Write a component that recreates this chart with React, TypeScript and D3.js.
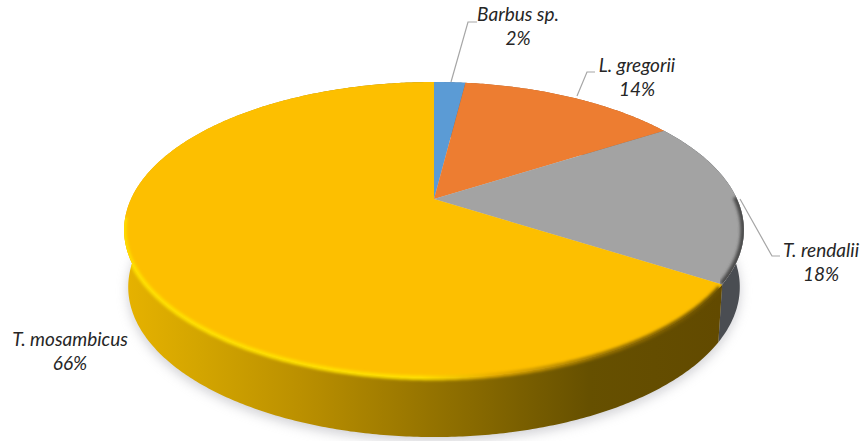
import React from "react";
import * as d3 from "d3";

const species = ["Barbus sp.", "L. gregorii", "T. rendalii", "T. mosambicus"];
const shares = [2, 14, 18, 66];
const faceColours = ["#5b9bd5", "#ed7d31", "#a3a3a3", "#fdbf00"];
const wallColours = ["#3c6d9c", "#a85820", "#4a4d52", "url(#wallY)"];

const W = 862, H = 441;
const TAU = Math.PI * 2;

// Projective mapping of the pie's circle onto the tilted picture plane
const C = -0.2095;
const project = (ang: number, lvl: { cx: number; R: number; a: number; b: number }) => {
  const u = Math.sin(ang), v = -Math.cos(ang);
  const d = 1 + C * v;
  return [lvl.cx + (lvl.R * u) / d, (lvl.a * v + lvl.b) / d] as [number, number];
};
const topLvl = { cx: 434, R: 303, a: 99.8, b: 199 };
const botLvl = { cx: 434, R: 299, a: 89.9, b: 255.6 };

const samples = (a0: number, a1: number) => {
  const n = Math.max(2, Math.ceil((a1 - a0) / 0.01));
  return d3.range(n + 1).map((i) => a0 + ((a1 - a0) * i) / n);
};
const line = d3.line();

const pieGen = d3.pie<number>().sort(null).startAngle(0).endAngle(TAU);
const arcs = pieGen(shares);

const facePath = (a0: number, a1: number) =>
  line([[topLvl.cx, topLvl.b] as [number, number], ...samples(a0, a1).map((t) => project(t, topLvl))]) + "Z";
const wallPath = (a0: number, a1: number) => {
  const s = samples(a0, a1);
  return line([...s.map((t) => project(t, topLvl)), ...s.slice().reverse().map((t) => project(t, botLvl))]) + "Z";
};
const rimPath = (a0: number, a1: number) => line(samples(a0, a1).map((t) => project(t, topLvl))) || "";
const wholeFace = line(samples(0, TAU).map((t) => project(t, topLvl))) + "Z";
const silhouette = line(samples(0, TAU).map((t) => project(t, botLvl))) + "Z";

const labelSpecs = [
  { x: 518, y: 21, leader: [[451, 82], [468, 22], [477, 22]] },
  { x: 637, y: 72, leader: [[577, 96], [587, 72], [595, 72]] },
  { x: 821, y: 257, leader: [[740, 199], [772, 256], [780, 256]] },
  { x: 70, y: 346, leader: [] as number[][] },
];

export default function App() {
  const yArc = arcs[3];
  const gArc = arcs[2];
  return (
    <svg width={W} height={H} style={{ position: "absolute", left: 0, top: 0, background: "#fff" }}
      fontFamily="Lato, 'Open Sans', sans-serif">
      <defs>
        <linearGradient id="wallY" gradientUnits="userSpaceOnUse" x1="125" x2="720" y1="0" y2="0">
          <stop offset="0" stopColor="#e6b200" />
          <stop offset="0.126" stopColor="#d3a500" />
          <stop offset="0.294" stopColor="#bb9000" />
          <stop offset="0.546" stopColor="#8f6f00" />
          <stop offset="0.78" stopColor="#665000" />
          <stop offset="1" stopColor="#624a00" />
        </linearGradient>
        <linearGradient id="rimY" gradientUnits="userSpaceOnUse" x1="125" x2="720" y1="0" y2="0">
          <stop offset="0" stopColor="#ffe000" />
          <stop offset="0.5" stopColor="#ffe000" />
          <stop offset="0.62" stopColor="#e6ac00" />
          <stop offset="0.8" stopColor="#9c7500" />
          <stop offset="1" stopColor="#6a5000" />
        </linearGradient>
        <filter id="blur6" x="-10%" y="-10%" width="120%" height="120%"><feGaussianBlur stdDeviation="6" /></filter>
        <filter id="blur2" x="-10%" y="-10%" width="120%" height="120%"><feGaussianBlur stdDeviation="1.5" /></filter>
        <clipPath id="faceClip"><path d={wholeFace} /></clipPath>
        <clipPath id="solidClip">
          <path d={wholeFace} />
          <path d={wallPath(0, TAU)} />
        </clipPath>
      </defs>

      <path d={silhouette} fill="#a0a0a8" opacity={0.5} filter="url(#blur6)" transform="translate(0,4)" />

      {arcs.map((a, i) => (
        <path key={"w" + i} d={wallPath(a.startAngle, a.endAngle)} fill={wallColours[i]} />
      ))}

      {arcs.map((a, i) => (
        <path key={"f" + i} d={facePath(a.startAngle, a.endAngle)} fill={faceColours[i]} />
      ))}

      <g clipPath="url(#solidClip)">
        <path d={rimPath(yArc.startAngle + 0.02, yArc.startAngle + 2.45)} fill="none" stroke="url(#rimY)" strokeWidth={4.5} filter="url(#blur2)" />
      </g>
      <g clipPath="url(#faceClip)">
        <path d={rimPath(gArc.startAngle + 0.55, gArc.endAngle)} fill="none" stroke="#4c4c4c" strokeWidth={7} filter="url(#blur2)" />
      </g>

      {labelSpecs.map((l, i) => (
        <g key={"l" + i}>
          {l.leader.length > 0 && (
            <path d={line(l.leader as [number, number][]) || ""} fill="none" stroke="#a6a6a6" strokeWidth={1.2} />
          )}
          <text x={l.x} y={l.y} textAnchor="middle" fontStyle="italic" fontSize={19} fill="#262626">{species[i]}</text>
          <text x={l.x} y={l.y + 24} textAnchor="middle" fontStyle="italic" fontSize={19} fill="#262626">{shares[i]}%</text>
        </g>
      ))}
    </svg>
  );
}
